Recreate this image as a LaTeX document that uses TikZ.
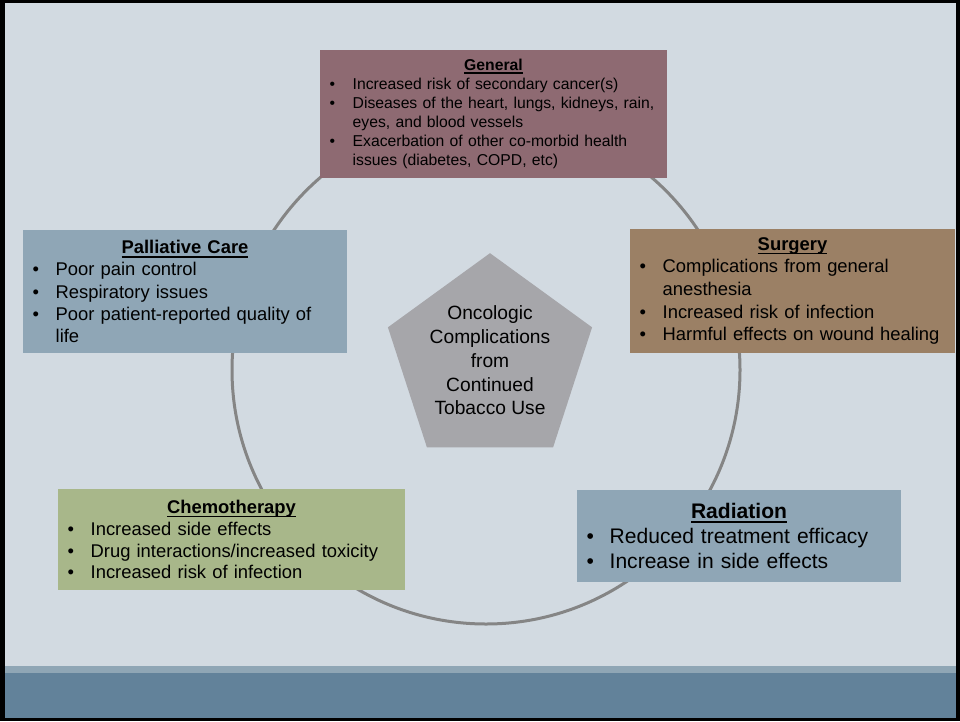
\documentclass[tikz,border=0pt]{standalone}
\usepackage{fontspec}
\setmainfont{Liberation Sans}
\usepackage{xcolor}
\usetikzlibrary{shapes.geometric}
\definecolor{slide}{HTML}{D2DAE1}
\definecolor{band}{HTML}{8FA6B5}
\definecolor{footer}{HTML}{62829A}
\definecolor{general}{HTML}{8E6A72}
\definecolor{steel}{HTML}{8FA6B6}
\definecolor{surgery}{HTML}{9B8065}
\definecolor{chemo}{HTML}{A8B78A}
\definecolor{core}{HTML}{A6A6AA}
\definecolor{ring}{HTML}{858585}

\newlength\bulind
\setlength\bulind{17.3pt}
\newcommand\bitem[1]{\par\hangindent=\bulind\hangafter=1\noindent\makebox[\bulind][l]{\textbullet}#1}
\newcommand\ttl[1]{{\centering\bfseries\setbox0\hbox{#1}\noindent\rlap{\rule[-0.22em]{\wd0}{0.09em}}\box0\par}}

\begin{document}
\begin{tikzpicture}[x=0.75pt,y=-0.75pt,
  panel/.style={inner xsep=7.2pt,inner ysep=0pt,align=left,text=black}]
\useasboundingbox (0,0) rectangle (960,721);
\fill[black] (0,0) rectangle (960,721);
\fill[slide] (5,3) rectangle (956,718);
\fill[band] (5,666) rectangle (956,673);
\fill[footer] (5,673) rectangle (956,718);

\draw[ring,line width=2.25pt] (486,370) circle[radius=254];

\node[regular polygon,regular polygon sides=5,minimum size=161pt,inner sep=0pt,fill=core,align=center,
  font=\fontsize{14.4}{17.8}\selectfont] (core) at (490,360.5)
  {Oncologic\\Complications\\from\\Continued\\Tobacco Use};

\node[panel,fill=general,minimum width=260.25pt,minimum height=96pt,text width=245.85pt,
  font=\fontsize{11.8}{14.3}\selectfont] (gen) at (493.5,114)
  {\ttl{General}
   \bitem{Increased risk of secondary cancer(s)}
   \bitem{\mbox{Diseases of the heart, lungs, kidneys, rain,}\newline eyes, and blood vessels}
   \bitem{Exacerbation of other co-morbid health\newline issues (diabetes, COPD, etc)}\par};

\node[panel,fill=steel,minimum width=243pt,minimum height=92.25pt,text width=228.6pt,
  font=\fontsize{13.8}{16.6}\selectfont] (pall) at (185,291.5)
  {\ttl{Palliative Care}
   \bitem{Poor pain control}
   \bitem{Respiratory issues}
   \bitem{Poor patient-reported quality of\newline life}\par};

\node[panel,fill=surgery,minimum width=243.75pt,minimum height=93pt,text width=229.35pt,
  font=\fontsize{13.8}{16.9}\selectfont] (surg) at (792.5,291)
  {\ttl{Surgery}
   \bitem{Complications from general\newline anesthesia}
   \bitem{Increased risk of infection}
   \bitem{Harmful effects on wound healing}\par};

\node[panel,fill=chemo,minimum width=260.25pt,minimum height=75.75pt,text width=245.85pt,
  font=\fontsize{13.8}{16.4}\selectfont] (chemo) at (231.5,539.5)
  {\ttl{Chemotherapy}
   \bitem{Increased side effects}
   \bitem{Drug interactions/increased toxicity}
   \bitem{Increased risk of infection}\par};

\node[panel,fill=steel,minimum width=243pt,minimum height=69pt,text width=228.6pt,
  font=\fontsize{15.8}{19}\selectfont] (rad) at (739,536)
  {\ttl{Radiation}
   \bitem{Reduced treatment efficacy}
   \bitem{Increase in side effects}\par};
\end{tikzpicture}
\end{document}
